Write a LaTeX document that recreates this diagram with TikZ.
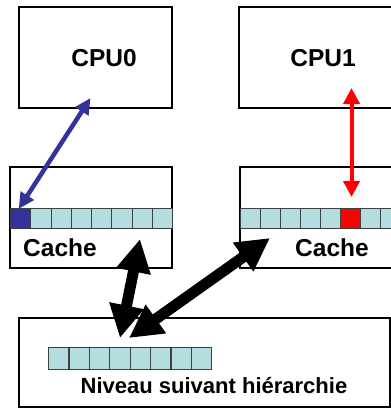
\documentclass[tikz,border=0pt]{standalone}
\usepackage{fontspec}
\setmainfont{Liberation Sans}
\usetikzlibrary{arrows.meta, calc}
\definecolor{cellcyan}{HTML}{B4DDE0}
\definecolor{cpublue}{HTML}{333399}
\definecolor{cpured}{HTML}{FF0000}

\begin{document}
\begin{tikzpicture}[x=1pt, y=-1pt,
    box/.style={rectangle, draw, line width=1.6pt, anchor=north west, inner sep=0pt, outer sep=0pt},
    cell/.style={rectangle, draw=black!75, line width=1.1pt, fill=cellcyan, anchor=north west, inner sep=0pt, minimum height=20pt, minimum width=20pt},
    txt/.style={font=\fontsize{24.5}{26}\selectfont\bfseries, inner sep=0pt},
    bigarr/.style={{Triangle[length=33pt, width=33pt]}-{Triangle[length=33pt, width=33pt]}, line width=11pt},
    bluearr/.style={{Triangle[length=16pt, width=15pt]}-{Triangle[length=16pt, width=15pt]}, line width=4.5pt, draw=cpublue},
    redarr/.style={{Triangle[length=16pt, width=16pt]}-{Triangle[length=16pt, width=16pt]}, line width=4pt, draw=cpured},
  ]
    \clip (0,0) rectangle (391,410);

    % processors
    \node[box, minimum width=153pt, minimum height=101pt] (cpuA) at (19,7) {};
    \node[box, minimum width=170pt, minimum height=101pt] (cpuB) at (239,7) {};
    \node[txt] (cpuAtxt) at (104,58) {CPU0};
    \node[txt] (cpuBtxt) at (323,58) {CPU1};

    % caches
    \node[box, minimum width=162pt, minimum height=101pt] (cacheA) at (10,167) {};
    \node[box, minimum width=170pt, minimum height=101pt] (cacheB) at (240,167) {};
    \foreach \i in {1,...,8}{
      \ifnum\i=1 \def\cc{cpublue}\else\def\cc{cellcyan}\fi
      \node[cell, fill=\cc, minimum width=20.25pt] (cA\i) at ({10+(\i-1)*20.25}, 208) {};
    }
    \foreach \i in {1,...,8}{
      \ifnum\i=6 \def\cc{cpured}\else\def\cc{cellcyan}\fi
      \node[cell, fill=\cc] (cB\i) at ({240+(\i-1)*20}, 208) {};
    }
    \node[txt] (cacheAtxt) at (60,248) {Cache};
    \node[txt] (cacheBtxt) at (332,248) {Cache};

    % next level
    \node[box, minimum width=371pt, minimum height=89pt] (mem) at (19,318) {};
    \foreach \i in {1,...,8}
      \node[cell, minimum width=20.4pt, minimum height=22pt] (cM\i) at ({48+(\i-1)*20.4}, 347) {};
    \node[txt, font=\fontsize{22}{24}\selectfont\bfseries] (memtxt) at (214,386) {Niveau suivant hiérarchie};

    % links
    \coordinate (bAtop) at (140,239);
    \coordinate (bAbot) at (120,338);
    \coordinate (bBtop) at (270,238);
    \coordinate (bBbot) at (129,338);
    \draw[bluearr] ($(cpuA.south)+(-5,-10)$) -- ($(cA1.north)+(-2,1)$);
    \draw[redarr] ($(cB6.north |- cpuB.south)+(1,-20)$) -- ($(cB6.north)+(1,-11)$);
    \draw[bigarr] (bAtop) -- (bAbot);
    \draw[bigarr] (bBtop) -- (bBbot);
\end{tikzpicture}
\end{document}
